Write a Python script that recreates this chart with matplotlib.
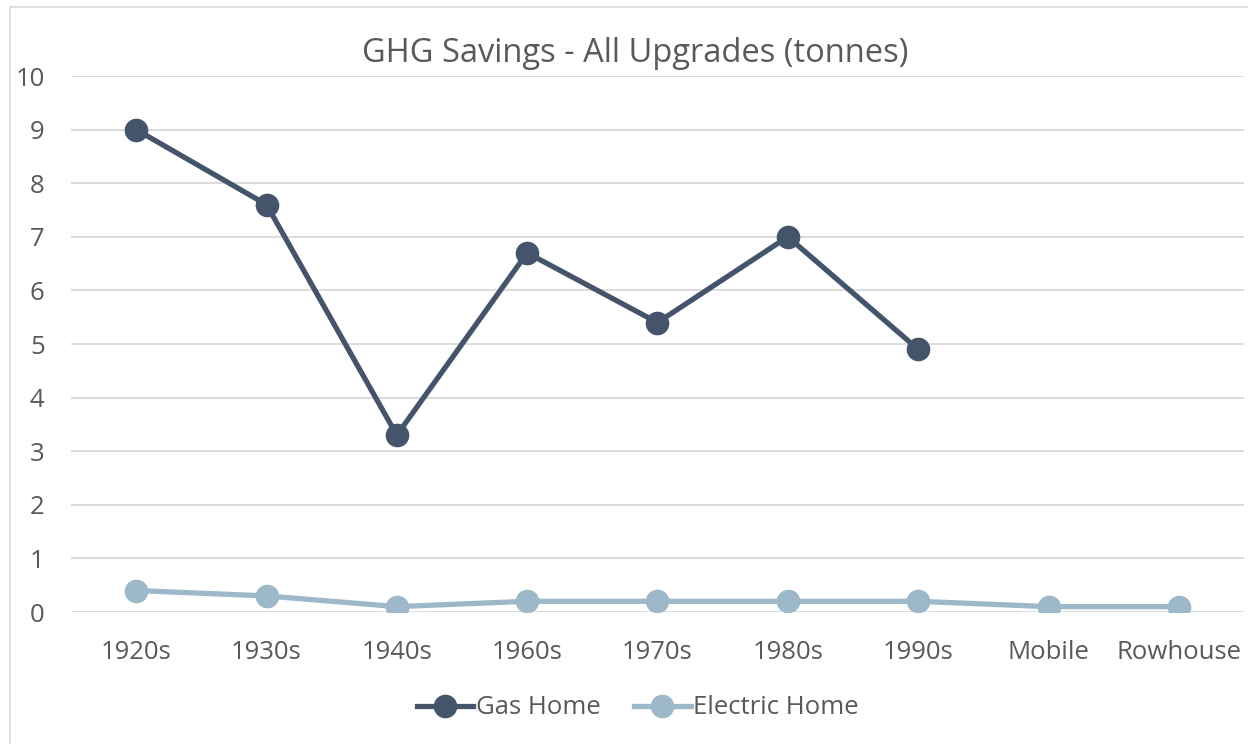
import matplotlib
matplotlib.use("Agg")
import matplotlib.pyplot as plt
import numpy as np
from matplotlib.patches import Rectangle

categories = ["1920s", "1930s", "1940s", "1960s", "1970s", "1980s", "1990s", "Mobile", "Rowhouse"]
gas_home = [9.0, 7.6, 3.3, 6.7, 5.4, 7.0, 4.9, np.nan, np.nan]
electric_home = [0.4, 0.3, 0.1, 0.2, 0.2, 0.2, 0.2, 0.1, 0.1]
y_ticks = [0, 1, 2, 3, 4, 5, 6, 7, 8, 9, 10]

plt.rcParams['font.family'] = ['Open Sans', 'DejaVu Sans']
txt = '#595959'
fig = plt.figure(figsize=(12.48, 7.44), dpi=100)
fig.patches.append(Rectangle((10/1248, -0.1), 1.2, 1 - 7/744 + 0.1, transform=fig.transFigure,
                             fill=False, edgecolor='#D9D9D9', linewidth=1.2))
ax = fig.add_axes([71/1248, 1 - 612/744, (1244 - 71)/1248, (612 - 76)/744])
x = np.arange(len(categories))
ax.plot(x, gas_home, color='#44546A', lw=3.8, marker='o', ms=16, label='Gas Home', zorder=3)
ax.plot(x, electric_home, color='#9DB8C8', lw=3.8, marker='o', ms=16, label='Electric Home', zorder=3)
ax.set_xlim(-0.5, len(categories) - 0.5)
ax.set_ylim(0, 10)
ax.set_yticks(y_ticks)
ax.set_xticks(x)
ax.set_xticklabels(categories)
ax.grid(axis='y', color='#D9D9D9', lw=1.3)
ax.set_axisbelow(True)
for s in ax.spines.values():
    s.set_visible(False)
ax.tick_params(length=0, labelsize=18.5, colors=txt, pad=20)
ax.tick_params(axis='y', pad=19)
fig.text(0.509, 1 - 53/744, "GHG Savings - All Upgrades (tonnes)", ha='center', va='center',
         fontsize=23.5, color=txt)
leg = fig.legend(loc='center', bbox_to_anchor=(0.511, 1 - 708/744), ncol=2, frameon=False,
                 fontsize=18.5, labelcolor=txt, handlelength=2.2, handletextpad=0.1, columnspacing=1.3)
fig.savefig("out.png", dpi=100)
